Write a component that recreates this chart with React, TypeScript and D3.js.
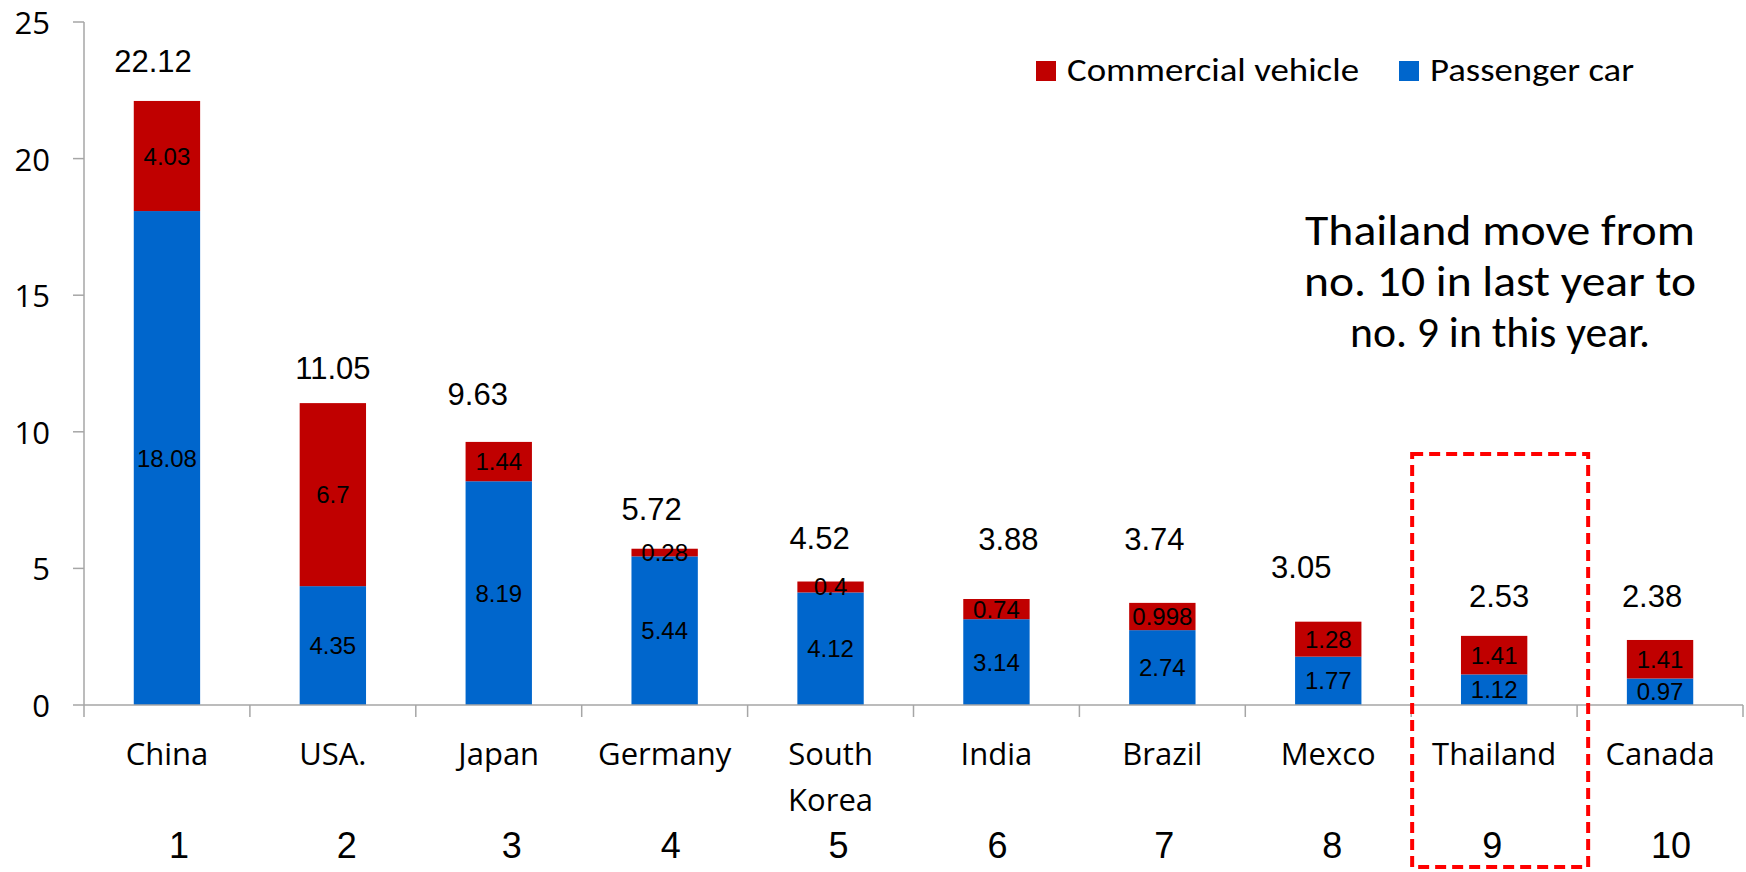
import React from 'react';
import * as d3 from 'd3';

const countries = ['China', 'USA.', 'Japan', 'Germany', 'South Korea', 'India', 'Brazil', 'Mexco', 'Thailand', 'Canada'];
const ranks = ['1', '2', '3', '4', '5', '6', '7', '8', '9', '10'];
const passengerCar = [18.08, 4.35, 8.19, 5.44, 4.12, 3.14, 2.74, 1.77, 1.12, 0.97];
const commercialVehicle = [4.03, 6.7, 1.44, 0.28, 0.4, 0.74, 0.998, 1.28, 1.41, 1.41];
const totalLabels = ['22.12', '11.05', '9.63', '5.72', '4.52', '3.88', '3.74', '3.05', '2.53', '2.38'];
const yTicks = [0, 5, 10, 15, 20, 25];
const noteLines = ['Thailand move from', 'no. 10 in last year to', 'no. 9 in this year.'];
const highlighted = 'Thailand';

// hand-placed label nudges (px) as in the original slide
const totalNudge: [number, number][] = [[-14, -29], [0, -24], [-21, -37], [-13, -29], [-11, -33], [12, -49], [-8, -53], [-27, -44], [5, -29], [-8, -33]];
const rankNudge = [12, 14, 13, 6, 8, 1, 2, 4, -2, 11];
const noteWidths = [390, 392, 300];

const W = 1746;
const H = 872;
const RED = '#C00000';
const BLUE = '#0066CC';
const AXIS = '#A6A6A6';
const CAL = 'Carlito, Lato, sans-serif';
const OPEN = '"Open Sans", sans-serif';
const ARIAL = '"Liberation Sans", Arial, sans-serif';

const App: React.FC = () => {
  const x = d3.scaleBand<string>().domain(countries).range([84, 1743]).paddingInner(0.6).paddingOuter(0.3);
  const y = d3.scaleLinear().domain([0, 25]).range([705, 22]);
  const step = x.step();
  const bw = x.bandwidth();
  const center = (c: string) => (x(c) ?? 0) + bw / 2;

  const stacked = d3.stack<number>()
    .keys(['passenger', 'commercial'])
    .value((i, key) => (key === 'passenger' ? passengerCar[i] : commercialVehicle[i]))(
      d3.range(countries.length)
    );
  const colors = [BLUE, RED];
  const segValues = [passengerCar, commercialVehicle];

  const boundaries = d3.range(countries.length + 1).map(i => 84 + i * step);
  const hx = x(highlighted) ?? 0;

  const legend = [
    { label: 'Commercial vehicle', color: RED, x: 1036, len: 292 },
    { label: 'Passenger car', color: BLUE, x: 1399, len: 204 },
  ];

  return (
    <svg width={W} height={H} style={{ position: 'absolute', left: 0, top: 0, background: '#fff' }}>
      {/* y axis */}
      <line x1={84} x2={84} y1={y(25)} y2={y(0)} stroke={AXIS} strokeWidth={1.5} />
      {yTicks.map(t => (
        <g key={t}>
          <line x1={73} x2={84} y1={y(t)} y2={y(t)} stroke={AXIS} strokeWidth={1.5} />
          <text x={50} y={y(t)} textAnchor="end" dominantBaseline="central" fontFamily={OPEN} fontSize={31} fill="#000">
            {t}
          </text>
        </g>
      ))}

      {/* bars */}
      {stacked.map((layer, li) => (
        <g key={li} fill={colors[li]}>
          {layer.map((d, i) => (
            <rect key={i} x={x(countries[i])} width={bw} y={y(d[1])} height={y(d[0]) - y(d[1])} />
          ))}
        </g>
      ))}

      {/* segment labels */}
      {stacked.map((layer, li) => (
        <g key={'l' + li}>
          {layer.map((d, i) => (
            <text key={i} x={center(countries[i])} y={y((d[0] + d[1]) / 2)} textAnchor="middle"
              dominantBaseline="central" fontFamily={ARIAL} fontSize={24} fill="#000">
              {segValues[li][i]}
            </text>
          ))}
        </g>
      ))}

      {/* totals */}
      {countries.map((c, i) => (
        <text key={c} x={center(c) + totalNudge[i][0]} y={y(passengerCar[i] + commercialVehicle[i]) + totalNudge[i][1]}
          textAnchor="middle" fontFamily={ARIAL} fontSize={31} fill="#000">
          {totalLabels[i]}
        </text>
      ))}

      {/* x axis */}
      <line x1={84} x2={1743} y1={y(0)} y2={y(0)} stroke={AXIS} strokeWidth={1.5} />
      {boundaries.map((bx, i) => (
        <line key={i} x1={bx} x2={bx} y1={y(0)} y2={y(0) + 12} stroke={AXIS} strokeWidth={1.5} />
      ))}
      {countries.map(c => {
        const words = c === 'South Korea' ? ['South', 'Korea'] : [c];
        return (
          <text key={c} x={center(c)} y={765} textAnchor="middle" fontFamily={OPEN} fontSize={31} fill="#000">
            {words.map((w, k) => (
              <tspan key={k} x={center(c)} dy={k === 0 ? 0 : 46}>{w}</tspan>
            ))}
          </text>
        );
      })}
      {countries.map((c, i) => (
        <text key={'r' + c} x={center(c) + rankNudge[i]} y={858} textAnchor="middle" fontFamily={ARIAL} fontSize={36} fill="#000">
          {ranks[i]}
        </text>
      ))}

      {/* legend */}
      {legend.map(l => (
        <g key={l.label}>
          <rect x={l.x} y={61} width={20} height={20} fill={l.color} />
          <text x={l.x + 31} y={81} fontFamily={CAL} fontSize={32} fill="#000" textLength={l.len} lengthAdjust="spacingAndGlyphs">
            {l.label}
          </text>
        </g>
      ))}

      {/* note */}
      {noteLines.map((l, i) => (
        <text key={i} x={1500 - noteWidths[i] / 2} y={245 + i * 51} fontFamily={CAL} fontSize={43} fill="#000"
          textLength={noteWidths[i]} lengthAdjust="spacingAndGlyphs">
          {l}
        </text>
      ))}

      {/* highlight box */}
      <rect x={hx + bw / 2 - 82} y={454} width={176} height={413} fill="none" stroke="#FF0000" strokeWidth={4} strokeDasharray="11 6" />
    </svg>
  );
};

export default App;
